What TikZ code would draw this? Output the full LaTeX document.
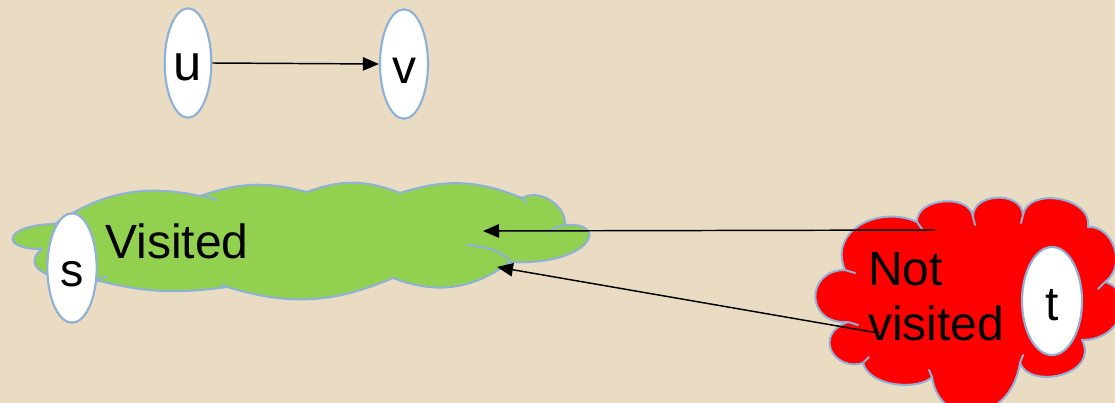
\documentclass[tikz,border=0pt]{standalone}
\usepackage{fontspec}
\setmainfont{Liberation Sans}
\usetikzlibrary{shapes.geometric,arrows.meta}
\definecolor{bg}{RGB}{234,220,194}
\definecolor{edge}{RGB}{143,176,215}
\definecolor{grn}{RGB}{146,208,80}
\definecolor{rd}{RGB}{255,0,0}
\begin{document}
\begin{tikzpicture}[x=0.75pt,y=-0.75pt,
  vert/.style={ellipse, draw=edge, line width=1.6pt, fill=white, inner sep=0pt, text depth=0pt},
  blob/.style={draw=edge, line width=1.5pt, line join=round},
  stub/.style={draw=edge, line width=1.5pt, line cap=round},
  link/.style={-{Triangle[length=12pt,width=10pt]}, line width=1.1pt, black},
  lbl/.style={font=\fontsize{36}{41}\selectfont, inner sep=0pt}]
\fill[bg] (0,0) rectangle (1115,403);
\useasboundingbox (0,0) rectangle (1115,403);
% green cloud (Visited)
\path[blob, fill=grn] (55,224) to[bend left=23] (200,196) to[bend left=17] (307,192)
  to[bend left=21] (400,193) to[bend left=20] (522,198) to[bend left=62] (565,225)
  .. controls (612,222) and (590,266) .. (510,262)
  to[bend left=29] (393,278) to[bend left=20] (227,287) to[bend left=11] (95,280)
  .. controls (55,284) and (18,268) .. (42,249)
  .. controls (0,250) and (2,225) .. cycle;
\draw[stub] (200,196) .. controls (208,197) .. (217,200);
\draw[stub] (565,225) .. controls (556,227) .. (548,232);
\draw[stub] (467,245) .. controls (490,247) and (505,253) .. (510,262);
\draw[stub] (227,287) -- (222,284);
\draw[stub] (95,280) .. controls (100,278) .. (107,277);
\draw[stub] (522,198) -- (526,203);
% red cloud (Not visited)
\path[blob, fill=rd] (845,270) .. controls (828,230) and (880,205) .. (917,222)
  to[bend left=88, looseness=1.1] (973,217) to[bend left=90, looseness=1.25] (1023,215)
  to[bend left=90, looseness=1.15] (1088,227)
  .. controls (1112,225) and (1128,265) .. (1105,282)
  .. controls (1135,290) and (1125,340) .. (1082,340)
  .. controls (1100,375) and (1030,390) .. (1020,363)
  .. controls (1010,425) and (940,430) .. (932,377)
  .. controls (920,390) and (870,388) .. (863,363)
  .. controls (835,372) and (812,335) .. (848,322)
  .. controls (805,325) and (805,270) .. cycle;
\draw[stub] (845,270) -- (855,273);
\draw[stub] (848,322) -- (858,325);
\draw[stub] (863,363) -- (869,357);
\draw[stub] (932,377) -- (929,370);
\draw[stub] (1020,363) -- (1023,355);
\draw[stub] (1105,282) -- (1098,289);
\draw[stub] (917,222) -- (922,229);
\draw[stub] (973,217) -- (975,225);
\draw[stub] (1023,215) -- (1021,223);
% labels
\node[lbl, anchor=base west] (vt) at (105,258) {Visited};
\node[lbl, align=left, anchor=west] (nt) at (868,297) {Not\\visited};
% vertices
\node[vert, minimum width=35pt, minimum height=82pt, text height=26.5pt, font=\fontsize{38}{40}\selectfont] (u) at (188,63) {u};
\node[vert, minimum width=36pt, minimum height=82pt, text height=28.7pt, font=\fontsize{36}{40}\selectfont] (v) at (404,64) {v};
\node[vert, minimum width=37pt, minimum height=82pt, text height=28.2pt, font=\fontsize{35}{36}\selectfont] (s) at (72,268) {s};
\node[vert, minimum width=45pt, minimum height=81pt, text height=28.6pt, font=\fontsize{36}{36}\selectfont] (t) at (1052,301) {t};
% connectors
\coordinate (r1) at (935,230);
\coordinate (g1) at (483,231);
\coordinate (r2) at (878,333);
\coordinate (g2) at (497,267);
\draw[link] (u.east) -- (v.west);
\draw[link] (r1) -- (g1);
\draw[link] (r2) -- (g2);
\end{tikzpicture}
\end{document}
